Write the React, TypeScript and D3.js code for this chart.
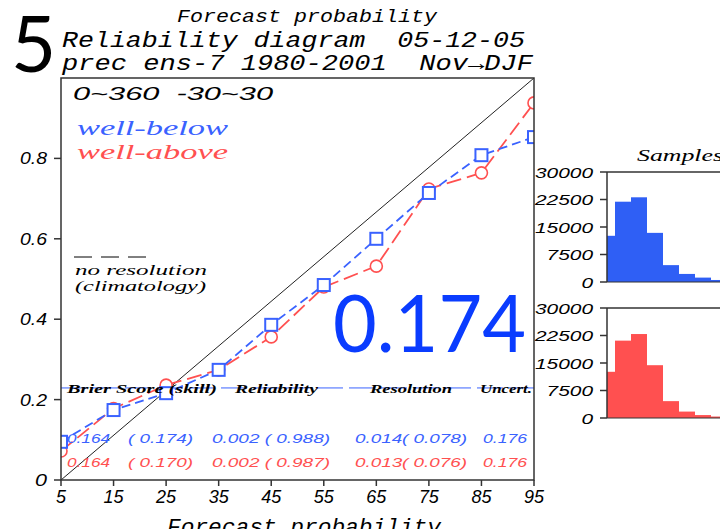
import React from "react";
import * as d3 from "d3";

// ---------- data ----------
const probs = [5, 15, 25, 35, 45, 55, 65, 75, 85, 95];
const wellBelowObs = [0.095, 0.174, 0.216, 0.274, 0.386, 0.485, 0.6, 0.714, 0.808, 0.853];
const wellAboveObs = [0.072, 0.178, 0.236, 0.274, 0.356, 0.48, 0.532, 0.724, 0.764, 0.938];
const climatology = 0.229;
const yTicks = [0, 0.2, 0.4, 0.6, 0.8];
const yTickLabels = ["0", "0.2", "0.4", "0.6", "0.8"];
const xTickLabels = ["5", "15", "25", "35", "45", "55", "65", "75", "85", "95"];
const wellBelowSamples = [12600, 21900, 23100, 13400, 4600, 2200, 1200, 550, 250, 100];
const wellAboveSamples = [12600, 21100, 22900, 14400, 4600, 1750, 800, 400, 200, 100];
const histTicks = [0, 7500, 15000, 22500, 30000];
const statHeaders = ["Brier Score (skill)", "Reliability", "Resolution", "Uncert."];
const statsBelow = ["0.164", "( 0.174)", "0.002 ( 0.988)", "0.014( 0.078)", "0.176"];
const statsAbove = ["0.164", "( 0.170)", "0.002 ( 0.987)", "0.013( 0.076)", "0.176"];
const bigScore = "0.174";

const BLUE = "#3a62ff";
const RED = "#ff5050";
const MONO = "'Liberation Mono', 'DejaVu Sans Mono', monospace";
const SERIF = "'Liberation Serif', 'DejaVu Serif', serif";
const SANS = "'Liberation Sans', 'DejaVu Sans', sans-serif";

type TP = {
  x: number; y: number; t: string; len?: number; size: number; fam: string;
  ital?: boolean; bold?: boolean; fill?: string; anchor?: string;
};
const T = ({ x, y, t, len, size, fam, ital = true, bold = false, fill = "#000", anchor = "start" }: TP) => (
  <text
    x={x}
    y={y}
    fontSize={size}
    fontFamily={fam}
    fontStyle={ital ? "italic" : "normal"}
    fontWeight={bold ? "bold" : "normal"}
    fill={fill}
    textAnchor={anchor as any}
    textLength={len}
    lengthAdjust={len ? "spacingAndGlyphs" : undefined}
    style={{ whiteSpace: "pre" }}
  >
    {t}
  </text>
);

const Hist = ({ counts, top, bottom, color }: { counts: number[]; top: number; bottom: number; color: string }) => {
  const hx = d3.scaleLinear().domain([5, 95]).range([607, 751]);
  const hy = d3.scaleLinear().domain([0, 30000]).range([bottom, top]);
  const bw = hx(15) - hx(5);
  return (
    <g>
      {counts.map((c, i) => {
        const x0 = Math.max(hx(probs[i]) - bw / 2, hx(5));
        const x1 = hx(probs[i]) + bw / 2;
        return <rect key={i} x={x0} y={hy(c)} width={x1 - x0} height={hy(0) - hy(c)} fill={color} />;
      })}
      <line x1={hx(5)} x2={hx(5)} y1={hy(0)} y2={hy(30000)} stroke="#333" strokeWidth={1.5} />
      <line x1={hx(5)} x2={760} y1={hy(30000)} y2={hy(30000)} stroke="#333" strokeWidth={1.5} />
      <line x1={hx(5)} x2={760} y1={hy(0)} y2={hy(0)} stroke="#333" strokeWidth={1} />
      {histTicks.map((v, i) => {
        const s = String(v);
        const len = s.length * 11.6;
        return (
          <g key={i}>
            <line x1={hx(5) - 7} x2={hx(5)} y1={hy(v)} y2={hy(v)} stroke="#333" strokeWidth={1.5} />
            <T x={593 - len} y={hy(v) + 5.5} t={s} len={len} size={15} fam={SANS} />
          </g>
        );
      })}
    </g>
  );
};

export default function App() {
  const x = d3.scaleLinear().domain([5, 95]).range([61, 534]);
  const y = d3.scaleLinear().domain([0, 1]).range([480, 78]);
  const line = d3
    .line<number>()
    .x((_, i) => x(probs[i]))
    .y((d) => y(d));
  const statX = [67, 128, 212, 355, 483];
  const statLen = [43, 65, 118, 112, 44];
  const headX = [67, 235, 370, 480];
  const headLen = [150, 83, 82, 52];

  return (
    <svg
      width={720}
      height={529}
      style={{ position: "absolute", left: 0, top: 0, background: "#fff" }}
    >
      <defs>
        <clipPath id="plotclip">
          <rect x={x(5)} y={y(1)} width={x(95) - x(5)} height={y(0) - y(1)} />
        </clipPath>
      </defs>
      <rect x={0} y={0} width={720} height={529} fill="#fff" />

      {/* titles */}
      <T x={177} y={22} t="Forecast probability" len={260} size={18} fam={MONO} />
      <T x={62} y={47} t="Reliability diagram  05-12-05" len={463} size={22} fam={MONO} />
      <T x={62} y={70} t="prec ens-7 1980-2001  Nov→DJF" len={471} size={22} fam={MONO} />
      <text x={11} y={72} fontSize={78} fontFamily="Lato, 'Open Sans', sans-serif" fill="#000">5</text>

      {/* main plot */}
      <g clipPath="url(#plotclip)">
        <line x1={x(5)} y1={y(0)} x2={x(95)} y2={y(1)} stroke="#222" strokeWidth={1} />
        <line x1={x(5)} x2={x(95)} y1={y(climatology)} y2={y(climatology)} stroke={BLUE} strokeWidth={1} strokeDasharray="26,6" />
        <path d={line(wellAboveObs) || ""} fill="none" stroke={RED} strokeWidth={1.8} strokeDasharray="15,6" />
        <path d={line(wellBelowObs) || ""} fill="none" stroke={BLUE} strokeWidth={1.8} strokeDasharray="9,5" />
        {wellAboveObs.map((v, i) => (
          <circle key={i} cx={x(probs[i])} cy={y(v)} r={6} fill="#fff" stroke={RED} strokeWidth={1.6} />
        ))}
        {wellBelowObs.map((v, i) => (
          <rect key={i} x={x(probs[i]) - 6} y={y(v) - 6} width={12} height={12} fill="#fff" stroke={BLUE} strokeWidth={2} />
        ))}
      </g>
      <rect x={x(5)} y={y(1)} width={x(95) - x(5)} height={y(0) - y(1)} fill="none" stroke="#333" strokeWidth={1.5} />

      {/* axes ticks */}
      {yTicks.map((v, i) => {
        const s = yTickLabels[i];
        const len = s.length === 1 ? 12 : 27;
        return (
          <g key={i}>
            <line x1={x(5) - 7} x2={x(5)} y1={y(v)} y2={y(v)} stroke="#333" strokeWidth={1.5} />
            <T x={47 - len} y={y(v) + 6} t={s} len={len} size={17} fam={SANS} />
          </g>
        );
      })}
      {probs.map((p, i) => {
        const s = xTickLabels[i];
        const len = s.length * 10;
        return (
          <g key={i}>
            <line x1={x(p)} x2={x(p)} y1={y(0)} y2={y(0) + 6} stroke="#333" strokeWidth={1.5} />
            <T x={x(p) - len / 2} y={503} t={s} len={len} size={18} fam={SANS} />
          </g>
        );
      })}
      <T x={167} y={534} t="Forecast probability" len={274} size={22} fam={MONO} />

      {/* in-plot annotations */}
      <T x={73} y={100} t="0~360  -30~30" len={200} size={18} fam={SANS} />
      <T x={77} y={135} t="well-below" len={151} size={20} fam={SERIF} fill={BLUE} />
      <T x={77} y={159} t="well-above" len={151} size={20} fam={SERIF} fill={RED} />
      {[0, 1, 2].map((k) => (
        <line key={k} x1={74 + k * 27} x2={92 + k * 27} y1={257} y2={257} stroke="#000" strokeWidth={1} />
      ))}
      <T x={75} y={275} t="no resolution" len={132} size={14.5} fam={SERIF} />
      <T x={75} y={291} t="(climatology)" len={131} size={14.5} fam={SERIF} />

      {statHeaders.map((h, i) => (
        <T key={i} x={headX[i]} y={393} t={h} len={headLen[i]} size={13} fam={SERIF} bold />
      ))}
      {statsBelow.map((s, i) => (
        <T key={i} x={statX[i]} y={443} t={s} len={statLen[i]} size={13} fam={SANS} fill={BLUE} />
      ))}
      {statsAbove.map((s, i) => (
        <T key={i} x={statX[i]} y={467} t={s} len={statLen[i]} size={13} fam={SANS} fill={RED} />
      ))}

      <text
        x={333}
        y={352}
        fontSize={80}
        fontFamily="Lato, 'Open Sans', sans-serif"
        fill="#0a3cff"
        textLength={193}
        lengthAdjust="spacingAndGlyphs"
      >
        {bigScore}
      </text>

      {/* histograms */}
      <T x={637} y={161} t="Samples" len={86} size={17} fam={SERIF} />
      <Hist counts={wellBelowSamples} top={172} bottom={282} color="#2f5ff5" />
      <Hist counts={wellAboveSamples} top={308} bottom={418} color={RED} />
    </svg>
  );
}
